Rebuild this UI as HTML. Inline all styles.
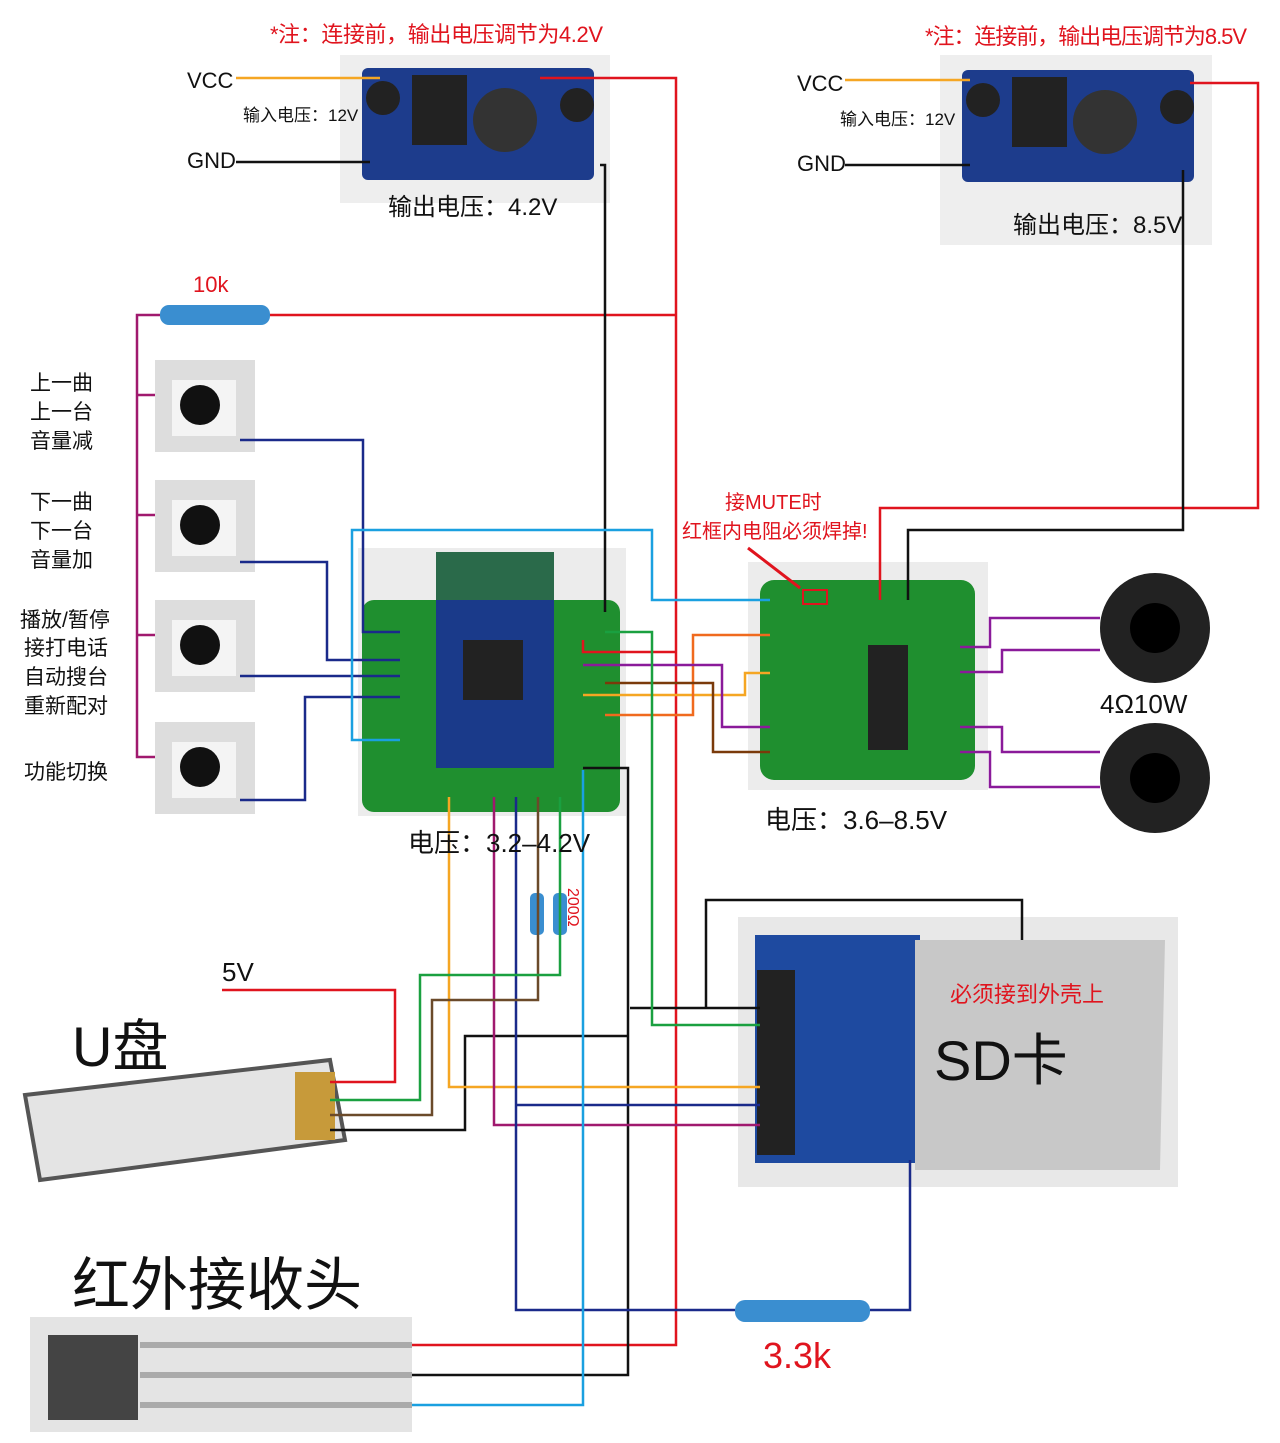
<!DOCTYPE html>
<html><head><meta charset="utf-8"><style>
body{margin:0;background:#fff;}
svg{display:block;font-family:"Liberation Sans","Noto Sans CJK SC",sans-serif;}
</style></head><body>
<svg width="1280" height="1443" viewBox="0 0 1280 1443" xmlns="http://www.w3.org/2000/svg">
<rect width="1280" height="1443" fill="#fff"/>
<rect x="340" y="55" width="270" height="148" fill="#eeeeee"/>
<rect x="940" y="55" width="272" height="190" fill="#eeeeee"/>
<rect x="362" y="68" width="232" height="112" rx="6" fill="#1d3c8c"/>
<rect x="962" y="70" width="232" height="112" rx="6" fill="#1d3c8c"/>
<circle cx="383" cy="98" r="17" fill="#222"/><circle cx="577" cy="105" r="17" fill="#222"/>
<circle cx="983" cy="100" r="17" fill="#222"/><circle cx="1177" cy="107" r="17" fill="#222"/>
<rect x="412" y="75" width="55" height="70" fill="#222"/><rect x="1012" y="77" width="55" height="70" fill="#222"/>
<circle cx="505" cy="120" r="32" fill="#333"/><circle cx="1105" cy="122" r="32" fill="#333"/>
<g fill="#ddd"><rect x="155" y="360" width="100" height="92"/><rect x="155" y="480" width="100" height="92"/><rect x="155" y="600" width="100" height="92"/><rect x="155" y="722" width="100" height="92"/></g>
<g fill="#f4f4f4"><rect x="172" y="380" width="64" height="56"/><rect x="172" y="500" width="64" height="56"/><rect x="172" y="620" width="64" height="56"/><rect x="172" y="742" width="64" height="56"/></g>
<g fill="#111"><circle cx="200" cy="405" r="20"/><circle cx="200" cy="525" r="20"/><circle cx="200" cy="645" r="20"/><circle cx="200" cy="767" r="20"/></g>
<rect x="358" y="548" width="268" height="268" fill="#ececec"/>
<rect x="362" y="600" width="258" height="212" rx="12" fill="#1f8f2f"/>
<rect x="436" y="552" width="118" height="50" fill="#2a6a4a"/>
<rect x="436" y="600" width="118" height="168" fill="#1a3a8a"/>
<rect x="463" y="640" width="60" height="60" fill="#222"/>
<rect x="748" y="562" width="240" height="228" fill="#ececec"/>
<rect x="760" y="580" width="215" height="200" rx="14" fill="#1f8f2f"/>
<rect x="868" y="645" width="40" height="105" fill="#222"/>
<circle cx="1155" cy="628" r="55" fill="#222"/><circle cx="1155" cy="628" r="25" fill="#000"/>
<circle cx="1155" cy="778" r="55" fill="#222"/><circle cx="1155" cy="778" r="25" fill="#000"/>
<rect x="738" y="917" width="440" height="270" fill="#e8e8e8"/>
<rect x="755" y="935" width="165" height="228" fill="#1e4aa0"/>
<path d="M915 940 L1165 940 L1160 1170 L915 1170 Z" fill="#c8c8c8"/>
<rect x="757" y="970" width="38" height="185" fill="#222"/>
<path d="M25 1095 L330 1060 L345 1140 L40 1180 Z" fill="#e4e4e4" stroke="#555" stroke-width="4"/>
<rect x="295" y="1072" width="40" height="68" fill="#c79a3a"/>
<rect x="30" y="1317" width="382" height="115" fill="#e4e4e4"/>
<rect x="48" y="1335" width="90" height="85" fill="#444"/>
<rect x="140" y="1342" width="272" height="6" fill="#aaa"/><rect x="140" y="1372" width="272" height="6" fill="#aaa"/><rect x="140" y="1402" width="272" height="6" fill="#aaa"/>
<rect x="160" y="305" width="110" height="20" rx="9" fill="#3a8ed0"/>
<rect x="735" y="1300" width="135" height="22" rx="10" fill="#3a8ed0"/>
<rect x="530" y="893" width="14" height="42" rx="5" fill="#3a8ed0"/>
<rect x="553" y="893" width="14" height="42" rx="5" fill="#3a8ed0"/>
<g fill="none" stroke-width="2.5">
<path d="M540 78 H676 V1345 H412" stroke="#e0141e"/>
<path d="M270 315 H676" stroke="#e0141e"/>
<path d="M222 990 H395 V1082 H330" stroke="#e0141e"/>
<path d="M1190 83 H1258 V508 H880 V600" stroke="#e0141e"/>
<path d="M583 640 V652 H676" stroke="#e0141e"/>
<path d="M236 162 H370" stroke="#111"/><path d="M845 165 H970" stroke="#111"/>
<path d="M600 165 H605 V612" stroke="#111"/>
<path d="M1183 170 V530 H908 V600" stroke="#111"/>
<path d="M706 1008 V900 H1022 V940" stroke="#111"/>
<path d="M630 1008 H760" stroke="#111"/>
<path d="M583 768 H628 V1375 H412" stroke="#111"/>
<path d="M330 1130 H465 V1036 H628" stroke="#111"/>
<path d="M236 78 H380" stroke="#f5a623"/><path d="M845 80 H970" stroke="#f5a623"/>
<path d="M449 797 V1087 H760" stroke="#f5a623"/>
<path d="M583 695 H745 V673 H770" stroke="#f5a623"/>
<path d="M605 715 H693 V635 H770" stroke="#f06a1e"/>
<path d="M160 315 H137 V757 H155 M137 395 H155 M137 515 H155 M137 635 H155" stroke="#a0196e"/>
<path d="M494 797 V1125 H760" stroke="#a0196e"/>
<path d="M583 665 H722 V727 H770" stroke="#8a1a9a"/>
<path d="M960 647 H990 V618 H1100 M960 672 H1002 V650 H1100 M960 727 H1002 V752 H1100 M960 752 H990 V787 H1100" stroke="#8a1a9a"/>
<path d="M240 440 H363 V632 H400" stroke="#1a2a8a"/>
<path d="M240 562 H327 V660 H400" stroke="#1a2a8a"/>
<path d="M240 676 H400" stroke="#1a2a8a"/>
<path d="M240 800 H305 V697 H400" stroke="#1a2a8a"/>
<path d="M516 797 V1310 H735" stroke="#1a2a8a"/>
<path d="M516 1105 H760" stroke="#1a2a8a"/>
<path d="M910 1160 V1310 H870" stroke="#1a2a8a"/>
<path d="M400 740 H352 V530 H652 V600 H770" stroke="#1aa0e0"/>
<path d="M583 770 V1405 H412" stroke="#1aa0e0"/>
<path d="M538 797 V1000 H432 V1115 H330" stroke="#6b4a2a"/>
<path d="M605 683 H713 V752 H770" stroke="#7a3a0a"/>
<path d="M560 797 V975 H420 V1100 H330" stroke="#1aa040"/>
<path d="M605 632 H652 V1025 H760" stroke="#1aa040"/>
<path d="M748 548 L800 588" stroke="#e0141e" stroke-width="3"/>
</g>
<rect x="803" y="590" width="24" height="14" fill="none" stroke="#e0141e" stroke-width="2"/>
<g font-size="22">
<text x="270" y="42" fill="#e0141e" textLength="333">*注：连接前，输出电压调节为4.2V</text>
<text x="925" y="44" fill="#e0141e" textLength="322">*注：连接前，输出电压调节为8.5V</text>
<text x="187" y="88" fill="#111">VCC</text><text x="187" y="168" fill="#111">GND</text>
<text x="797" y="91" fill="#111">VCC</text><text x="797" y="171" fill="#111">GND</text>
<text x="193" y="292" fill="#e0141e">10k</text>
<text x="725" y="509" fill="#e0141e" font-size="20">接MUTE时</text>
<text x="682" y="538" fill="#e0141e" font-size="20">红框内电阻必须焊掉!</text>
<text x="950" y="1002" fill="#e0141e">必须接到外壳上</text>
</g>
<g font-size="17" fill="#111"><text x="243" y="121">输入电压：12V</text><text x="840" y="125">输入电压：12V</text></g>
<g font-size="24" fill="#111"><text x="388" y="215">输出电压：4.2V</text><text x="1013" y="233">输出电压：8.5V</text></g>
<g font-size="21" fill="#111">
<text x="30" y="390">上一曲</text><text x="30" y="419">上一台</text><text x="30" y="448">音量减</text>
<text x="30" y="509">下一曲</text><text x="30" y="538">下一台</text><text x="30" y="567">音量加</text>
<text x="20" y="627">播放/暂停</text><text x="24" y="655">接打电话</text><text x="24" y="684">自动搜台</text><text x="24" y="713">重新配对</text>
<text x="24" y="779">功能切换</text>
</g>
<g font-size="26" fill="#111">
<text x="408" y="852">电压：3.2–4.2V</text>
<text x="765" y="829">电压：3.6–8.5V</text>
<text x="1100" y="713">4Ω10W</text>
<text x="222" y="981">5V</text>
</g>
<text x="72" y="1066" font-size="56" fill="#111">U盘</text>
<text x="72" y="1305" font-size="58" fill="#111">红外接收头</text>
<text x="934" y="1080" font-size="56" fill="#111">SD卡</text>
<text x="763" y="1368" font-size="36" fill="#e0141e">3.3k</text>
<text x="568" y="888" font-size="16" fill="#e0141e" transform="rotate(90 568 888)">200Ω</text>
</svg>
</body></html>
